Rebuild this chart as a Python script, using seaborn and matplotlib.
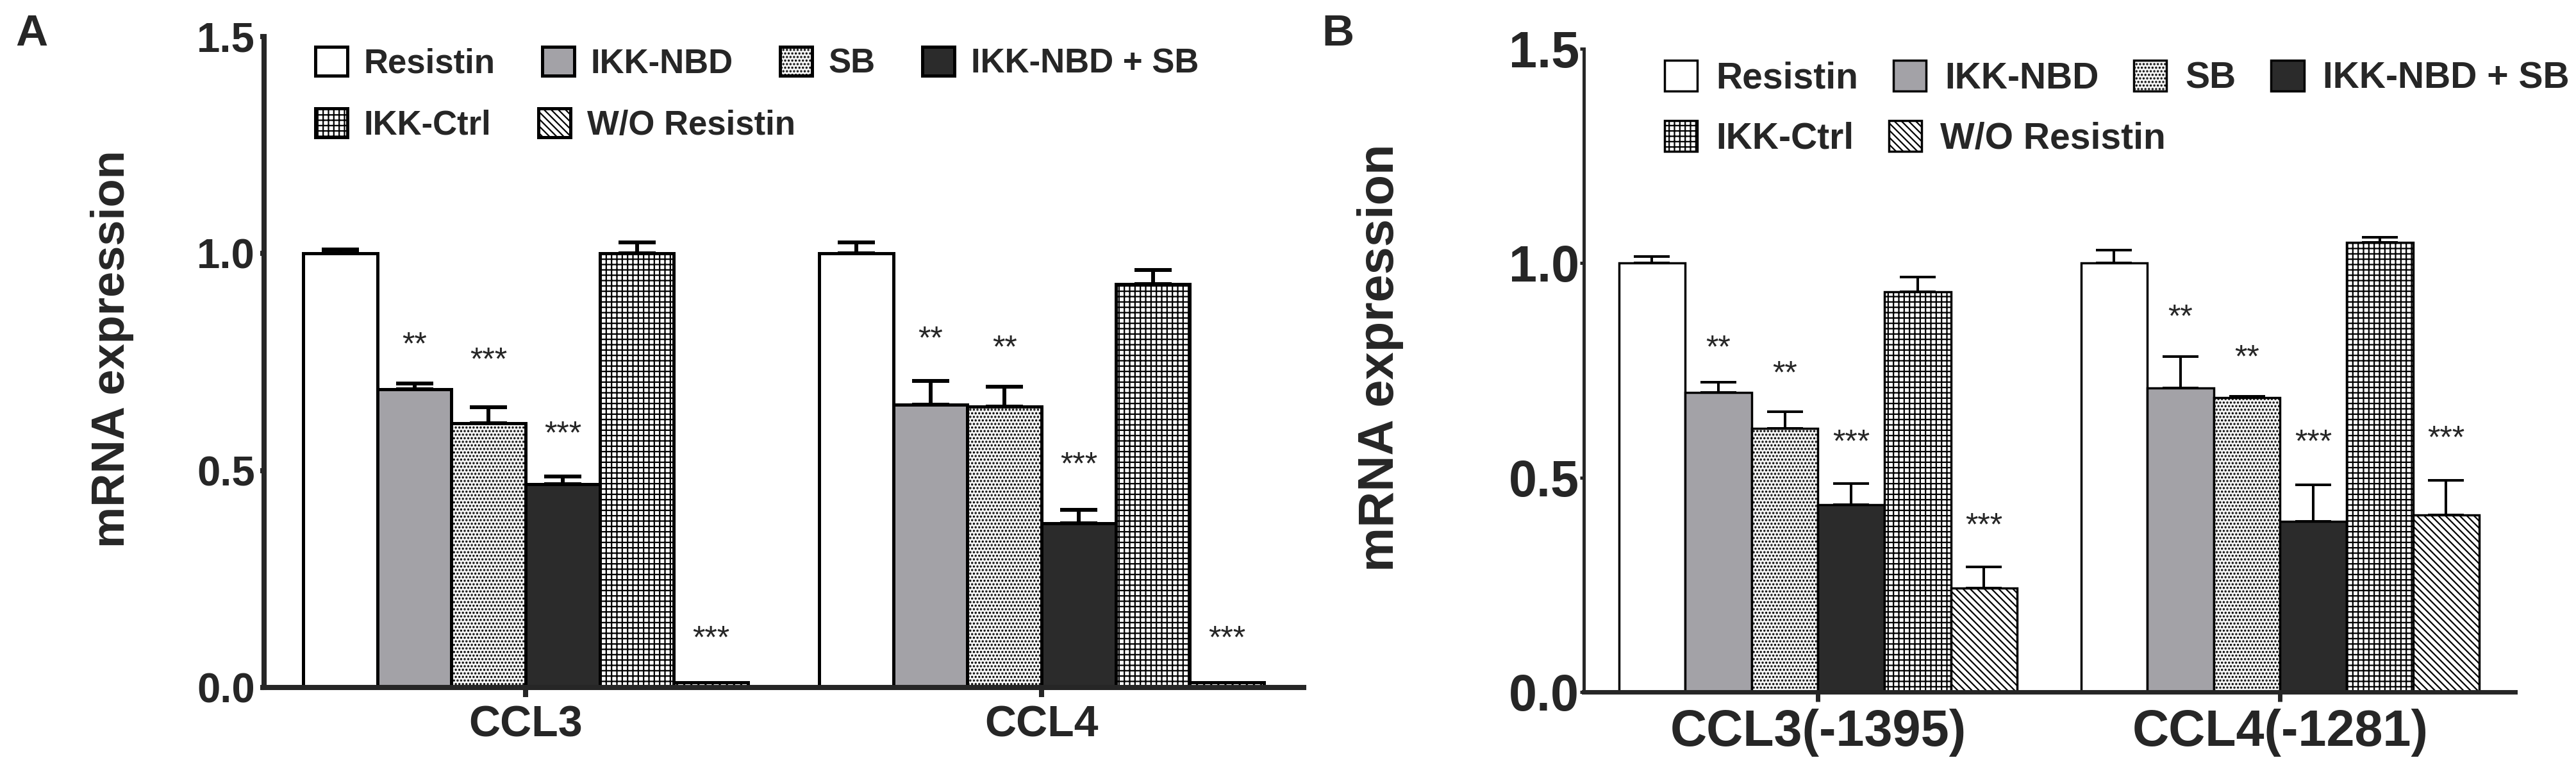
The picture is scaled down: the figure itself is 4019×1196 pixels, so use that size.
import numpy as np
import pandas as pd
import matplotlib
matplotlib.use('Agg')
import matplotlib.pyplot as plt
import seaborn as sns

# ── data ─────────────────────────────────────────────────────────────────────
treatments = ['Resistin', 'IKK-NBD', 'SB', 'IKK-NBD + SB', 'IKK-Ctrl', 'W/O Resistin']
legend_row1 = ['Resistin', 'IKK-NBD', 'SB', 'IKK-NBD + SB']
legend_row2 = ['IKK-Ctrl', 'W/O Resistin']
yticks = [0.0, 0.5, 1.0, 1.5]

# panel A
genes_a = ['CCL3', 'CCL4']
ccl3_a = [1.00, 0.687, 0.609, 0.469, 1.00, 0.012]
ccl3_a_err = [0.009, 0.013, 0.037, 0.017, 0.025, 0.0]
ccl4_a = [1.00, 0.652, 0.647, 0.379, 0.930, 0.012]
ccl4_a_err = [0.025, 0.055, 0.046, 0.031, 0.032, 0.0]
ccl3_a_stars = ['', '**', '***', '***', '', '***']
ccl4_a_stars = ['', '**', '**', '***', '', '***']
ccl3_a_star_y = [0, 0.787, 0.752, 0.582, 0, 0.11]
ccl4_a_star_y = [0, 0.80, 0.78, 0.51, 0, 0.11]

# panel B
genes_b = ['CCL3(-1395)', 'CCL4(-1281)']
ccl3_b = [1.00, 0.699, 0.614, 0.437, 0.934, 0.243]
ccl3_b_err = [0.015, 0.023, 0.040, 0.049, 0.034, 0.048]
ccl4_b = [1.00, 0.709, 0.686, 0.398, 1.049, 0.413]
ccl4_b_err = [0.030, 0.073, 0.004, 0.085, 0.012, 0.081]
ccl3_b_stars = ['', '**', '**', '***', '', '***']
ccl4_b_stars = ['', '**', '**', '***', '', '***']
ccl3_b_star_y = [0, 0.80, 0.74, 0.58, 0, 0.385]
ccl4_b_star_y = [0, 0.872, 0.777, 0.58, 0, 0.589]

# ── style ────────────────────────────────────────────────────────────────────
fills = {'Resistin': 'white', 'IKK-NBD': '#a3a2a7', 'SB': '#f4f4f4',
         'IKK-NBD + SB': '#2b2b2b', 'IKK-Ctrl': 'white', 'W/O Resistin': 'white'}
hatches = {'SB': '...', 'IKK-Ctrl': '++', 'W/O Resistin': '\\\\\\'}

sns.set_style('ticks')
plt.rcParams['font.family'] = ['Liberation Sans', 'DejaVu Sans']
plt.rcParams['font.weight'] = 'bold'
plt.rcParams['axes.labelweight'] = 'bold'
plt.rcParams['hatch.linewidth'] = 1.6

fig = plt.figure(figsize=(40.19, 11.96), dpi=100)
ax_a = fig.add_axes([0.1025, 0.1037, 0.4036, 0.8487])
ax_b = fig.add_axes([0.6148, 0.0978, 0.3615, 0.8386])


def draw_panel(ax, genes, values, errs, stars, star_ys, sz):
    df = pd.DataFrame({
        'gene': np.repeat(genes, len(treatments)),
        'treatment': treatments * len(genes),
        'value': np.concatenate(values),
    })
    sns.barplot(data=df, x='gene', y='value', hue='treatment', order=genes,
                hue_order=treatments, palette=fills, saturation=1, width=0.862,
                gap=0, errorbar=None, legend=False, edgecolor='black',
                linewidth=sz['bar_lw'], ax=ax)
    bars = sorted(ax.patches, key=lambda p: p.get_x())
    handles = {}
    for g in range(len(genes)):
        for i, t in enumerate(treatments):
            p = bars[g * len(treatments) + i]
            if t in hatches:
                p.set_hatch(hatches[t])
            handles.setdefault(t, p)
            xc = p.get_x() + p.get_width() / 2
            if errs[g][i] > 0:
                ax.errorbar([xc], [p.get_height()], yerr=[[0], [errs[g][i]]],
                            fmt='none', ecolor='black', elinewidth=sz['err_lw'],
                            capsize=sz['cap'], capthick=sz['err_lw'], zorder=3)
            if stars[g][i]:
                ax.text(xc, star_ys[g][i], stars[g][i], ha='center', va='center',
                        fontsize=sz['star_fs'], fontweight='normal')

    ax.set_xlim(-0.507, 1.508)
    ax.set_ylim(0, 1.5)
    ax.set_yticks(yticks)
    ax.set_yticklabels([f'{v:.1f}' for v in yticks], fontsize=sz['tick_fs'])
    ax.set_xticks(range(len(genes)))
    ax.set_xticklabels(genes, fontsize=sz['xtick_fs'])
    ax.set_xlabel('')
    ax.set_ylabel('mRNA expression', fontsize=sz['label_fs'])
    ax.yaxis.set_label_coords(sz['label_x'], 0.52)
    sns.despine(ax=ax)
    ax.spines['left'].set_linewidth(sz['spine_lw'])
    ax.spines['bottom'].set_linewidth(sz['bottom_lw'])
    ax.tick_params(axis='y', direction='out', length=4, width=sz['spine_lw'],
                   pad=sz['ypad'])
    ax.tick_params(axis='x', direction='out', length=11, width=sz['bottom_lw'],
                   pad=sz['xpad'])

    # legend: two independent rows, as in the original
    for names, y in zip([legend_row1, legend_row2], sz['leg_y']):
        leg = ax.legend([handles[n] for n in names], names, loc='center left',
                        bbox_to_anchor=(sz['leg_x'], y), bbox_transform=fig.transFigure,
                        ncol=len(names), frameon=False,
                        prop={'weight': 'bold', 'size': sz['leg_fs']},
                        handlelength=sz['hl'], handleheight=sz['hh'],
                        handletextpad=sz['htp'], columnspacing=sz['colsp'],
                        borderpad=0, borderaxespad=0)
        ax.add_artist(leg)
    ax.legend_ = None


size_a = dict(bar_lw=3.6, err_lw=4.3, cap=21, star_fs=36, tick_fs=47, xtick_fs=49,
              label_fs=52, label_x=-0.125, spine_lw=5.8, bottom_lw=5.8, ypad=6,
              xpad=8, leg_x=0.1224, leg_y=[0.9172, 0.837], leg_fs=38, hl=0.95,
              hh=0.93, htp=0.49, colsp=1.38)
size_b = dict(bar_lw=2.5, err_lw=2.9, cap=20, star_fs=36, tick_fs=57, xtick_fs=57,
              label_fs=56, label_x=-0.193, spine_lw=3.6, bottom_lw=5.0, ypad=1,
              xpad=8, leg_x=0.6462, leg_y=[0.898, 0.8194], leg_fs=41, hl=0.9,
              hh=0.93, htp=0.51, colsp=0.96)

draw_panel(ax_a, genes_a, [ccl3_a, ccl4_a], [ccl3_a_err, ccl4_a_err],
           [ccl3_a_stars, ccl4_a_stars], [ccl3_a_star_y, ccl4_a_star_y], size_a)
draw_panel(ax_b, genes_b, [ccl3_b, ccl4_b], [ccl3_b_err, ccl4_b_err],
           [ccl3_b_stars, ccl4_b_stars], [ccl3_b_star_y, ccl4_b_star_y], size_b)

fig.text(0.0124, 0.9557, 'A', fontsize=50, fontweight='bold', ha='center', va='center')
fig.text(0.5193, 0.9557, 'B', fontsize=50, fontweight='bold', ha='center', va='center')

fig.savefig('out.png', dpi=100, facecolor='white')
